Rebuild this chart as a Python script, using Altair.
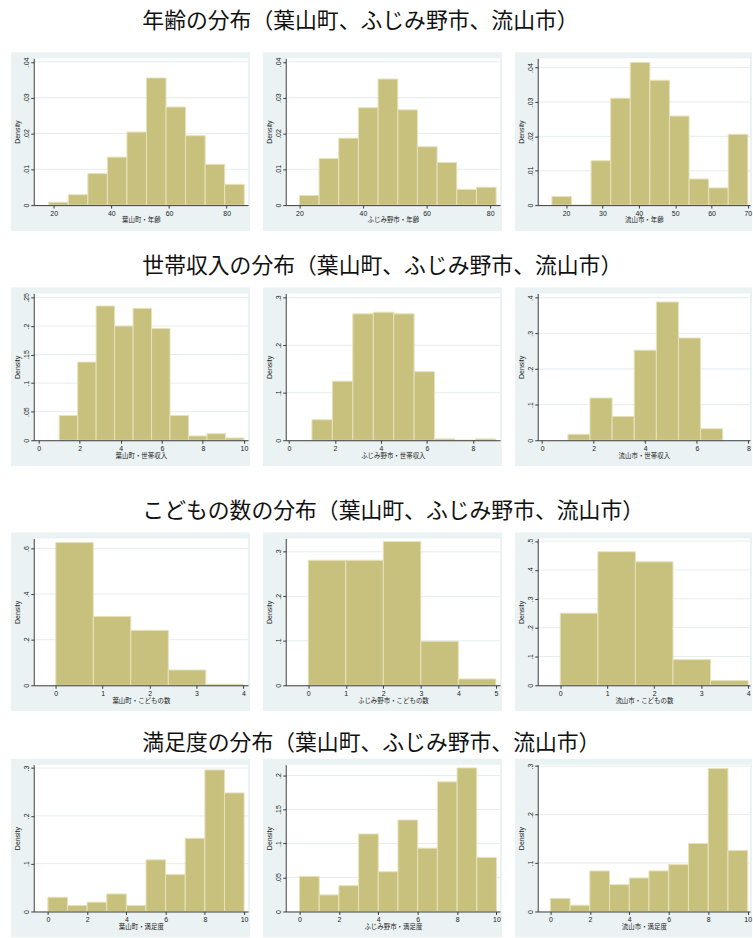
import altair as alt
import pandas as pd

FRAME = "#EAF2F3"
BAR = "#C8C17E"
BAR_EDGE = "#E6E2BC"
GRID = "#E6EDEF"
AXIS = "#3A3A3A"
FONT = "Liberation Sans"
JFONT = "Noto Sans CJK JP"

row_titles = [
    "年齢の分布（葉山町、ふじみ野市、流山市）",
    "世帯収入の分布（葉山町、ふじみ野市、流山市）",
    "こどもの数の分布（葉山町、ふじみ野市、流山市）",
    "満足度の分布（葉山町、ふじみ野市、流山市）",
]

# ---- 年齢 ----
hayama_age_edges = [18.3, 25.08, 31.86, 38.64, 45.42, 52.2, 58.98, 65.76, 72.54, 79.32, 86.1]
hayama_age_density = [0.0008, 0.0029, 0.0088, 0.0134, 0.0204, 0.0355, 0.0274, 0.0194, 0.0114, 0.0058]
fujimino_age_edges = [20.0, 26.19, 32.37, 38.56, 44.75, 50.94, 57.12, 63.31, 69.5, 75.68, 81.87]
fujimino_age_density = [0.0027, 0.0130, 0.0187, 0.0272, 0.0352, 0.0266, 0.0163, 0.0119, 0.0044, 0.0050]
nagareyama_age_edges = [16.1, 21.49, 26.88, 32.27, 37.66, 43.05, 48.44, 53.83, 59.22, 64.61, 70.0]
nagareyama_age_density = [0.0025, 0.0, 0.0129, 0.0311, 0.0415, 0.0363, 0.0259, 0.0076, 0.0050, 0.0206]

# ---- 世帯収入 ----
hayama_inc_edges = [1.0, 1.9, 2.8, 3.7, 4.6, 5.5, 6.4, 7.3, 8.2, 9.1, 10.0]
hayama_inc_density = [0.0433, 0.1368, 0.2350, 0.1998, 0.2309, 0.1957, 0.0433, 0.0075, 0.0115, 0.0040]
fujimino_inc_edges = [1.0, 1.889, 2.778, 3.667, 4.556, 5.444, 6.333, 7.222, 8.111, 9.0]
fujimino_inc_density = [0.0431, 0.1243, 0.2660, 0.2694, 0.2660, 0.1444, 0.0028, 0.0, 0.0028]
nagareyama_inc_edges = [1.0, 1.857, 2.714, 3.571, 4.429, 5.286, 6.143, 7.0]
nagareyama_inc_density = [0.0167, 0.1185, 0.0667, 0.2528, 0.3880, 0.2870, 0.0324]

# ---- こどもの数 ----
hayama_kids_edges = [0.0, 0.8, 1.6, 2.4, 3.2, 4.0]
hayama_kids_density = [0.626, 0.302, 0.241, 0.067, 0.0044]
fujimino_kids_edges = [0.0, 1.0, 2.0, 3.0, 4.0, 5.0]
fujimino_kids_density = [0.281, 0.281, 0.323, 0.099, 0.0143]
nagareyama_kids_edges = [0.0, 0.8, 1.6, 2.4, 3.2, 4.0]
nagareyama_kids_density = [0.250, 0.463, 0.428, 0.089, 0.0162]

# ---- 満足度 ----
sat_edges = [0, 1, 2, 3, 4, 5, 6, 7, 8, 9, 10]
hayama_sat_density = [0.0298, 0.0125, 0.0194, 0.0367, 0.0125, 0.108, 0.0776, 0.153, 0.296, 0.248]
fujimino_sat_density = [0.0517, 0.0244, 0.038, 0.1141, 0.0585, 0.1346, 0.0932, 0.1907, 0.2112, 0.0795]
nagareyama_sat_density = [0.027, 0.0131, 0.0837, 0.0554, 0.0692, 0.0837, 0.0969, 0.1405, 0.295, 0.126]

panels = [
    [
        dict(label="葉山町・年齢", edges=hayama_age_edges, density=hayama_age_density,
             xdomain=[13.1, 87.4], xticks=[20, 40, 60, 80], ymax=0.041, yticks=[0, 0.01, 0.02, 0.03, 0.04]),
        dict(label="ふじみ野市・年齢", edges=fujimino_age_edges, density=fujimino_age_density,
             xdomain=[15.7, 83.1], xticks=[20, 40, 60, 80], ymax=0.041, yticks=[0, 0.01, 0.02, 0.03, 0.04]),
        dict(label="流山市・年齢", edges=nagareyama_age_edges, density=nagareyama_age_density,
             xdomain=[12.2, 70.6], xticks=[20, 30, 40, 50, 60, 70], ymax=0.0427, yticks=[0, 0.01, 0.02, 0.03, 0.04]),
    ],
    [
        dict(label="葉山町・世帯収入", edges=hayama_inc_edges, density=hayama_inc_density,
             xdomain=[-0.24, 10.2], xticks=[0, 2, 4, 6, 8, 10], ymax=0.257, yticks=[0, 0.05, 0.1, 0.15, 0.2, 0.25]),
        dict(label="ふじみ野市・世帯収入", edges=fujimino_inc_edges, density=fujimino_inc_density,
             xdomain=[-0.14, 9.18], xticks=[0, 2, 4, 6, 8], ymax=0.309, yticks=[0, 0.1, 0.2, 0.3]),
        dict(label="流山市・世帯収入", edges=nagareyama_inc_edges, density=nagareyama_inc_density,
             xdomain=[-0.17, 8.06], xticks=[0, 2, 4, 6, 8], ymax=0.412, yticks=[0, 0.1, 0.2, 0.3, 0.4]),
    ],
    [
        dict(label="葉山町・こどもの数", edges=hayama_kids_edges, density=hayama_kids_density,
             xdomain=[-0.47, 4.1], xticks=[0, 1, 2, 3, 4], ymax=0.644, yticks=[0, 0.2, 0.4, 0.6]),
        dict(label="ふじみ野市・こどもの数", edges=fujimino_kids_edges, density=fujimino_kids_density,
             xdomain=[-0.6, 5.11], xticks=[0, 1, 2, 3, 4, 5], ymax=0.33, yticks=[0, 0.1, 0.2, 0.3]),
        dict(label="流山市・こどもの数", edges=nagareyama_kids_edges, density=nagareyama_kids_density,
             xdomain=[-0.48, 4.04], xticks=[0, 1, 2, 3, 4], ymax=0.509, yticks=[0, 0.1, 0.2, 0.3, 0.4, 0.5]),
    ],
    [
        dict(label="葉山町・満足度", edges=sat_edges, density=hayama_sat_density,
             xdomain=[-0.72, 10.2], xticks=[0, 2, 4, 6, 8, 10], ymax=0.307, yticks=[0, 0.1, 0.2, 0.3]),
        dict(label="ふじみ野市・満足度", edges=sat_edges, density=fujimino_sat_density,
             xdomain=[-0.7, 10.18], xticks=[0, 2, 4, 6, 8, 10], ymax=0.216, yticks=[0, 0.05, 0.1, 0.15, 0.2]),
        dict(label="流山市・満足度", edges=sat_edges, density=nagareyama_sat_density,
             xdomain=[-0.64, 10.12], xticks=[0, 2, 4, 6, 8, 10], ymax=0.303, yticks=[0, 0.1, 0.2, 0.3]),
    ],
]

H = 148
TOP_M = 6
BOT_M = 26
LEFT_M = 23
row_gap_below = [23, 33, 20, 0]
title_offsets = [19, 9, 9, 3]

one = pd.DataFrame({"k": [0]})


def make_panel(p, width, right_m, extra):
    bars = pd.DataFrame({"x0": p["edges"][:-1], "x1": p["edges"][1:], "d": p["density"]})
    grid = pd.DataFrame({"d": p["yticks"][1:]})
    xs = alt.Scale(domain=p["xdomain"], nice=False, zero=False)
    ys = alt.Scale(domain=[0, p["ymax"]], nice=False, zero=True)
    yaxis = alt.Axis(
        values=p["yticks"], title="Density", grid=False, tickSize=3,
        labelExpr="datum.value == 0 ? '0' : replace(format(datum.value, '~g'), '0.', '.')",
        labelAngle=270, labelFontSize=7, titleFontSize=7, labelPadding=1, titlePadding=2,
        labelFont=FONT, titleFont=FONT, titleFontWeight="normal",
        domainColor=AXIS, tickColor=AXIS, labelColor="#222", titleColor="#222",
        zindex=1)

    frame = alt.Chart(one).mark_rect(color=FRAME, clip=False).encode(
        x=alt.value(-LEFT_M), x2=alt.value(width + right_m),
        y=alt.value(-TOP_M), y2=alt.value(H + BOT_M))
    spacer = alt.Chart(one).mark_rect(opacity=0, clip=False).encode(
        x=alt.value(0), x2=alt.value(1),
        y=alt.value(H), y2=alt.value(H + BOT_M + extra))
    plot_bg = alt.Chart(one).mark_rect(color="white").encode(
        x=alt.value(0), x2=alt.value(width), y=alt.value(0), y2=alt.value(H))
    rules = alt.Chart(grid).mark_rule(color=GRID, strokeWidth=1).encode(
        x=alt.value(0), x2=alt.value(width),
        y=alt.Y("d:Q", scale=ys, axis=yaxis))
    hist = alt.Chart(bars).mark_rect(color=BAR, stroke=BAR_EDGE, strokeWidth=1).encode(
        x=alt.X("x0:Q", scale=xs, axis=alt.Axis(
            values=p["xticks"], title=p["label"], grid=False, tickSize=3,
            labelFontSize=7, titleFontSize=6.5, labelPadding=1, titlePadding=1,
            labelFont=FONT, titleFont=JFONT, titleFontWeight="normal",
            domainColor=AXIS, tickColor=AXIS, labelColor="#222", titleColor="#222",
            labelFlush=False, zindex=1)),
        x2="x1:Q",
        y=alt.Y("d:Q", scale=ys, axis=yaxis),
        y2=alt.datum(0),
    )
    return alt.layer(frame, spacer, plot_bg, rules, hist).properties(width=width, height=H)


rows = []
for r in range(4):
    charts = []
    for c in range(3):
        w = 216 if c < 2 else 214
        charts.append(make_panel(panels[r][c], w, 2, row_gap_below[r]))
    row = alt.hconcat(*charts, spacing=11).properties(
        title=alt.TitleParams(text=row_titles[r], anchor="start", dx=133, fontSize=22,
                              font=JFONT, fontWeight="normal", color="#111",
                              offset=title_offsets[r]))
    rows.append(row)

chart = alt.vconcat(*rows, spacing=0).properties(
    padding={"left": 10, "top": 6, "right": 0, "bottom": 0},
    background="white",
).configure_view(stroke="transparent")

chart.save("out.html", embed_options={"renderer": "svg", "actions": False})
